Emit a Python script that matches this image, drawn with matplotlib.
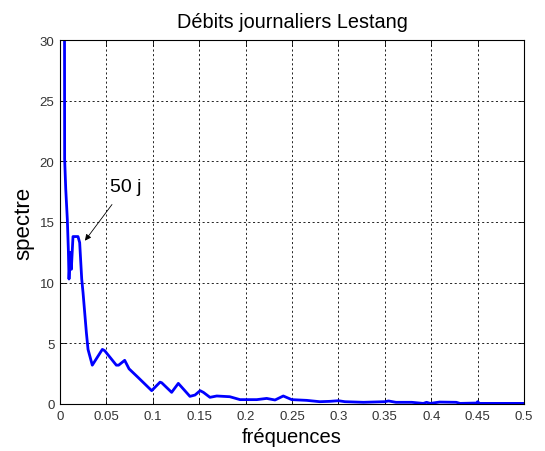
import numpy as np
import matplotlib
matplotlib.use("Agg")
import matplotlib.pyplot as plt

plt.rcParams['font.family'] = ['Liberation Sans', 'DejaVu Sans']

# spectre
freq = [0.0045, 0.0050, 0.0062, 0.0079, 0.0090, 0.0097, 0.0111, 0.0122, 0.0140,
        0.0194, 0.0212, 0.0234, 0.0248, 0.0284, 0.0302, 0.0348, 0.0456, 0.0481,
        0.0607, 0.0632, 0.0697, 0.0744, 0.0840, 0.0988, 0.1078, 0.1096, 0.1203,
        0.1275, 0.1400, 0.1455, 0.1510, 0.1545, 0.1616, 0.1689, 0.1830, 0.1940,
        0.2120, 0.2227, 0.2317, 0.2406, 0.2497, 0.2658, 0.2800, 0.2910, 0.3000,
        0.3070, 0.3270, 0.3500, 0.3540, 0.3620, 0.3790, 0.3915, 0.3950, 0.3990,
        0.4090, 0.4270, 0.4310, 0.4490, 0.4500, 0.4520, 0.5000]
spec = [60.0, 20.2, 17.7, 15.2, 12.7, 10.3, 12.5, 11.1, 13.8,
        13.8, 13.3, 10.3, 9.2, 5.9, 4.5, 3.2, 4.5, 4.4,
        3.2, 3.2, 3.6, 2.9, 2.2, 1.1, 1.8, 1.75, 0.96,
        1.7, 0.63, 0.74, 1.1, 0.96, 0.55, 0.66, 0.6, 0.36,
        0.36, 0.46, 0.33, 0.66, 0.36, 0.3, 0.19, 0.22, 0.27,
        0.19, 0.14, 0.19, 0.25, 0.14, 0.14, 0.05, 0.14, 0.05,
        0.16, 0.14, 0.05, 0.08, 0.19, 0.05, 0.05]

xticks = [0, 0.05, 0.1, 0.15, 0.2, 0.25, 0.3, 0.35, 0.4, 0.45, 0.5]
xticklabels = ['0', '0.05', '0.1', '0.15', '0.2', '0.25', '0.3', '0.35', '0.4', '0.45', '0.5']
yticks = [0, 5, 10, 15, 20, 25, 30]

fig = plt.figure(figsize=(5.45, 4.52), dpi=100)
ax = fig.add_axes([60/545, 47/452, 464/545, 364/452])

ax.plot(freq, spec, color=(0, 0, 1), linewidth=2)

ax.set_xlim(0, 0.5)
ax.set_ylim(0, 30)
ax.set_xticks(xticks)
ax.set_xticklabels(xticklabels)
ax.set_yticks(yticks)
ax.tick_params(direction='in', length=4, width=0.6, labelsize=9.5,
               labelcolor='#333333', top=True, right=True, pad=4)
ax.grid(True, color='black', linestyle=(0, (2.5, 3)), linewidth=0.6)
for s in ax.spines.values():
    s.set_linewidth(0.8)

ax.set_title('Débits journaliers Lestang', fontsize=14.3, pad=9)
ax.set_xlabel('fréquences', fontsize=14.5, labelpad=4)
ax.set_ylabel('spectre', fontsize=16, labelpad=4)

ax.annotate('50 j', xy=(0.0269, 13.46), xytext=(0.0535, 17.55),
            fontsize=14, ha='left', va='baseline',
            arrowprops=dict(arrowstyle='-|>', color='black', lw=0.6,
                            mutation_scale=9, shrinkA=6, shrinkB=0))

fig.savefig('out.png', dpi=100)
